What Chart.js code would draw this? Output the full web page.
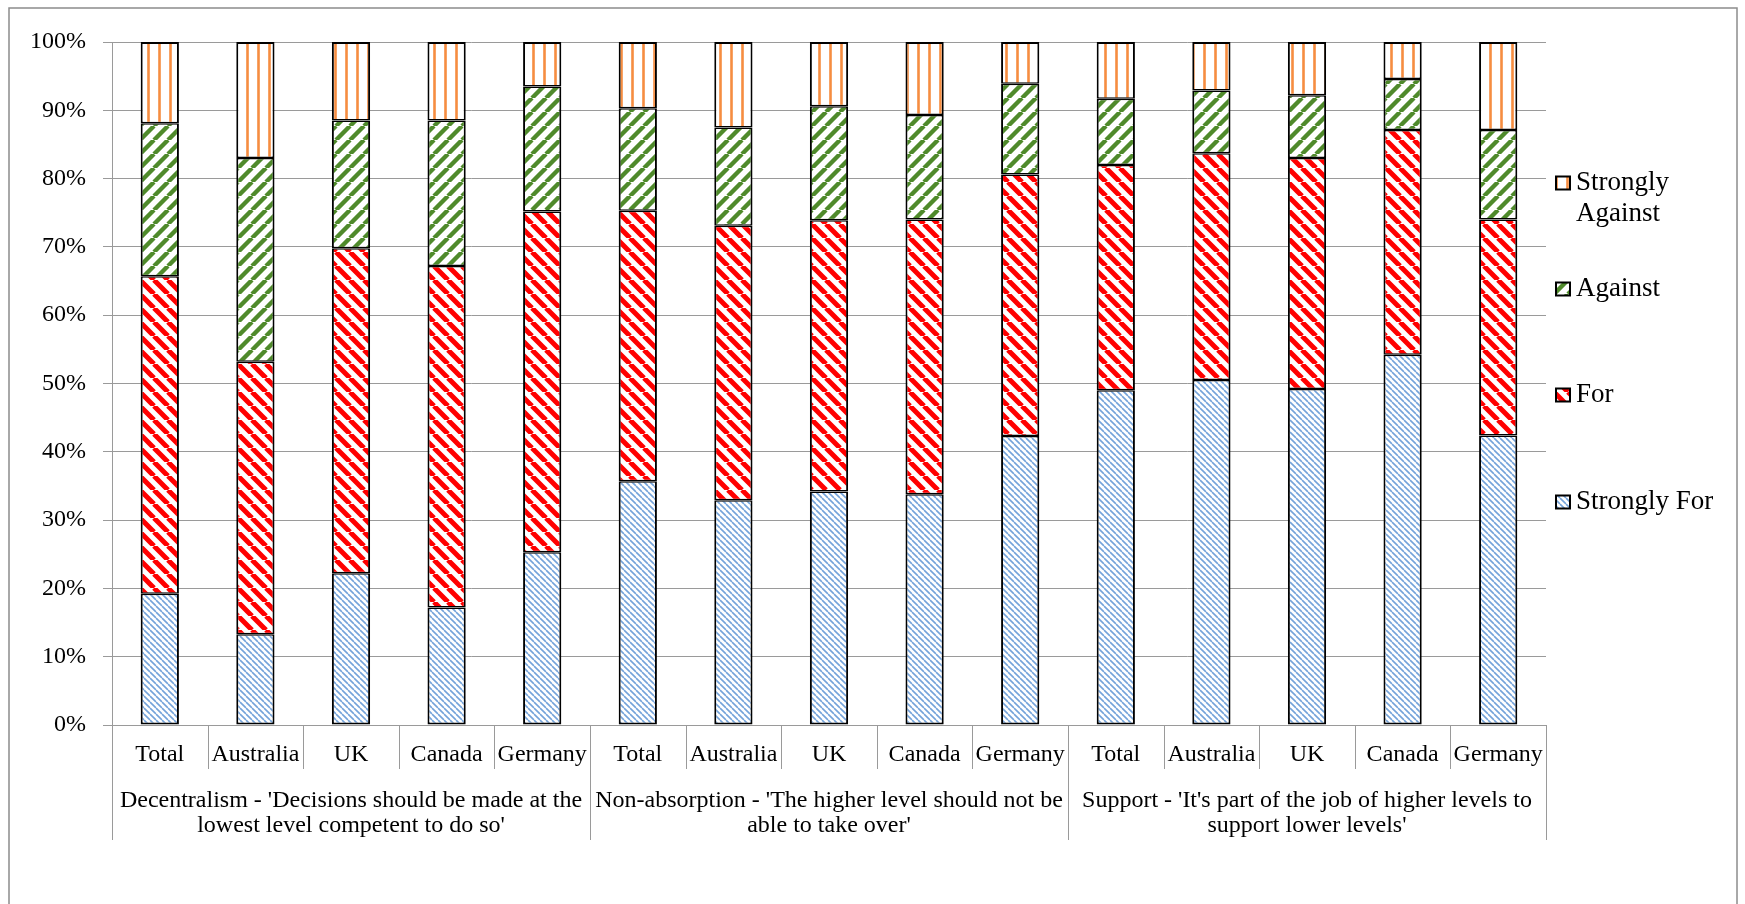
<!DOCTYPE html>
<html>
<head>
<meta charset="utf-8">
<script src="https://cdn.jsdelivr.net/npm/chart.js@4.4.0/dist/chart.umd.min.js"></script>
<style>
    html, body { margin: 0; padding: 0; background: #fff; }
    #wrap { width: 1745px; height: 904px; }
</style>
</head>
<body>
<div id="wrap"><canvas id="surveyChart" width="1745" height="904"></canvas></div>
<script>
// Survey answers, percent of respondents per country within each principle
const countries = ['Total', 'Australia', 'UK', 'Canada', 'Germany'];
const questionGroups = [
    ["Decentralism - 'Decisions should be made at the", "lowest level competent to do so'"],
    ["Non-absorption - 'The higher level should not be", "able to take over'"],
    ["Support - 'It's part of the job of higher levels to", "support lower levels'"]
];
const categories = questionGroups.flatMap(() => countries);

const stronglyFor     = [19.2, 13.3, 22.2, 17.2, 25.3,  35.7, 32.9, 34.2, 33.8, 42.3,  49.0, 50.5, 49.2, 54.2, 42.4];
const forVotes        = [46.5, 39.9, 47.6, 50.0, 49.9,  39.6, 40.2, 39.7, 40.2, 38.3,  33.0, 33.2, 33.8, 32.9, 31.6];
const against         = [22.4, 29.8, 18.7, 21.3, 18.3,  15.0, 14.4, 16.7, 15.3, 13.3,   9.7,  9.2,  9.2,  7.5, 13.1];
const stronglyAgainst = [11.9, 17.0, 11.5, 11.5,  6.5,   9.7, 12.5,  9.4, 10.7,  6.1,   8.3,  7.1,  7.8,  5.4, 12.9];

const yTicks = [0, 10, 20, 30, 40, 50, 60, 70, 80, 90, 100];

const FONT = '"Liberation Serif", "Times New Roman", serif';
const GRID = '#9a9a9a';

const canvas = document.getElementById('surveyChart');
const ctx = canvas.getContext('2d');

// hatch fills: 'vertical', 'down' (\) or 'up' (/)
function stripePattern(kind, color, size, width) {
    const tile = document.createElement('canvas');
    tile.width = size;
    tile.height = size;
    const c = tile.getContext('2d');
    c.fillStyle = '#fff';
    c.fillRect(0, 0, size, size);
    c.strokeStyle = color;
    c.lineWidth = width;
    c.beginPath();
    if (kind === 'vertical') {
        c.moveTo(size / 2, 0);
        c.lineTo(size / 2, size);
    } else if (kind === 'down') {
        for (const o of [-size, 0, size]) { c.moveTo(o, 0); c.lineTo(o + size, size); }
    } else {
        for (const o of [0, size, 2 * size]) { c.moveTo(o, 0); c.lineTo(o - size, size); }
    }
    c.stroke();
    return ctx.createPattern(tile, 'repeat');
}

const fills = {
    stronglyFor: stripePattern('down', '#74a3da', 6, 1.6),
    forVotes: stripePattern('down', '#ff0000', 14, 5),
    against: stripePattern('up', '#4f8a2b', 14, 4.4),
    stronglyAgainst: stripePattern('vertical', '#f68d40', 11, 2.6)
};

// inner edges are split between the two stacked segments that share them
function barSet(label, data, fill, top, bottom) {
    return {
        label: label,
        data: data,
        backgroundColor: fill,
        borderColor: '#000',
        borderWidth: { top: top, bottom: bottom, left: 2, right: 2 },
        borderSkipped: false,
        categoryPercentage: 1,
        barPercentage: 0.4
    };
}

// white page with the light frame round it
const framePlugin = {
    id: 'frame',
    beforeDraw(chart) {
        const c = chart.ctx;
        c.save();
        c.fillStyle = '#fff';
        c.fillRect(0, 0, chart.width, chart.height);
        c.strokeStyle = '#8c8c8c';
        c.lineWidth = 1.5;
        c.strokeRect(9, 8, chart.width - 17, chart.height + 20);
        c.restore();
    }
};

// country separators and the principle labels under the x axis
const groupAxisPlugin = {
    id: 'groupAxis',
    afterDraw(chart) {
        const c = chart.ctx;
        const area = chart.chartArea;
        const step = area.width / categories.length;
        const base = area.bottom;
        c.save();
        c.strokeStyle = GRID;
        c.lineWidth = 1;
        for (let i = 0; i <= categories.length; i++) {
            const x = Math.round(area.left + i * step) + 0.5;
            const long = i % countries.length === 0;
            c.beginPath();
            c.moveTo(x, base);
            c.lineTo(x, base + (long ? 115 : 44));
            c.stroke();
        }
        c.fillStyle = '#000';
        c.font = '24px ' + FONT;
        c.textAlign = 'center';
        c.textBaseline = 'middle';
        questionGroups.forEach((lines, g) => {
            const cx = area.left + (g * countries.length + countries.length / 2) * step;
            lines.forEach((line, k) => c.fillText(line, cx, base + 76 + k * 24.5));
        });
        c.restore();
    }
};

// legend on the right, top entry first
const legendRows = [
    { dataset: 3, lines: ['Strongly', 'Against'], y: 183 },
    { dataset: 2, lines: ['Against'], y: 289 },
    { dataset: 1, lines: ['For'], y: 395 },
    { dataset: 0, lines: ['Strongly For'], y: 502 }
];

const sideLegendPlugin = {
    id: 'sideLegend',
    afterDraw(chart) {
        const c = chart.ctx;
        const x = chart.chartArea.right + 10;
        c.save();
        c.font = '27px ' + FONT;
        c.textBaseline = 'middle';
        c.textAlign = 'left';
        legendRows.forEach(row => {
            const ds = chart.data.datasets[row.dataset];
            c.fillStyle = ds.backgroundColor;
            c.fillRect(x, row.y - 6.5, 14, 13);
            c.strokeStyle = '#000';
            c.lineWidth = 2;
            c.strokeRect(x, row.y - 6.5, 14, 13);
            c.fillStyle = '#000';
            row.lines.forEach((line, k) => c.fillText(line, x + 20, row.y + k * 30.5));
        });
        c.restore();
    }
};

new Chart(ctx, {
    type: 'bar',
    data: {
        labels: categories,
        datasets: [
            barSet('Strongly For', stronglyFor, fills.stronglyFor, 1.5, 2),
            barSet('For', forVotes, fills.forVotes, 1.5, 1.5),
            barSet('Against', against, fills.against, 1.5, 1.5),
            barSet('Strongly Against', stronglyAgainst, fills.stronglyAgainst, 2, 1.5)
        ]
    },
    options: {
        responsive: false,
        animation: false,
        devicePixelRatio: 1,
        layout: { padding: { left: 0, top: 42, right: 199, bottom: 0 } },
        plugins: {
            legend: { display: false },
            tooltip: { enabled: false }
        },
        scales: {
            x: {
                stacked: true,
                grid: { display: false },
                border: { display: true, color: GRID, width: 1 },
                ticks: {
                    autoSkip: false,
                    maxRotation: 0,
                    padding: 7,
                    color: '#000',
                    font: { family: FONT, size: 24 }
                },
                afterFit(scale) { scale.height = 179; }
            },
            y: {
                stacked: true,
                min: 0,
                max: 100,
                afterBuildTicks(scale) { scale.ticks = yTicks.map(v => ({ value: v })); },
                grid: { color: GRID, lineWidth: 1, tickLength: 9 },
                border: { display: true, color: GRID, width: 1 },
                ticks: {
                    padding: 17,
                    color: '#000',
                    font: { family: FONT, size: 24 },
                    callback: v => v + '%'
                },
                afterFit(scale) { scale.width = 112; }
            }
        }
    },
    plugins: [framePlugin, groupAxisPlugin, sideLegendPlugin]
});
</script>
</body>
</html>
